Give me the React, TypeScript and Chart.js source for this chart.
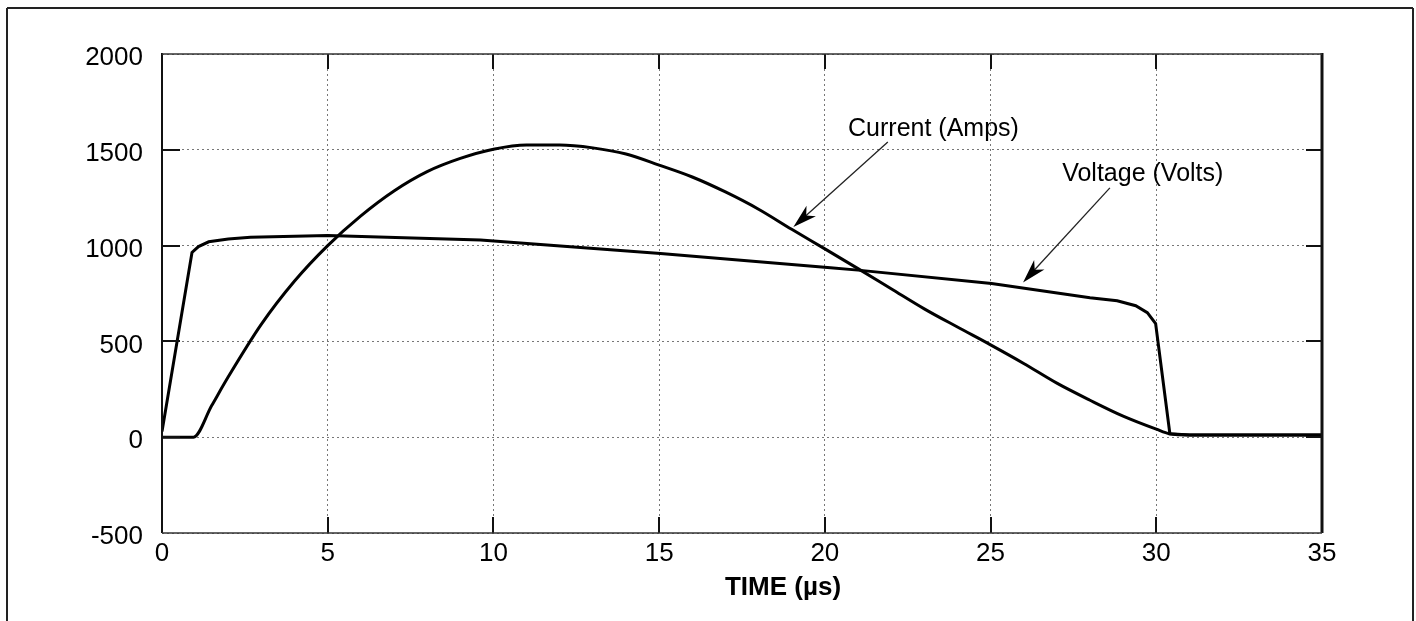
import React, { useEffect, useRef } from "react";
import { Chart, registerables } from "chart.js";

Chart.register(...registerables);

// ---- data ----
const xTicks = [0, 5, 10, 15, 20, 25, 30, 35];
const yTicks = [-500, 0, 500, 1000, 1500, 2000];
const xAxisTitle = "TIME (µs)";

const currentTime = [0, 0.95, 1.5, 2, 3, 4, 5, 6, 7, 8, 9, 10, 11, 12, 13, 14, 15, 16, 17, 18, 19, 20, 21, 22, 23, 24, 25, 26, 27, 28, 29, 30, 30.4, 31, 35];
const currentAmps = [0, 0, 165, 315, 590, 815, 1000, 1155, 1285, 1386, 1455, 1503, 1525, 1525, 1510, 1478, 1420, 1358, 1280, 1190, 1085, 983, 880, 775, 670, 575, 482, 385, 282, 193, 110, 42, 18, 12, 12];

const voltageTime = [0, 0.905, 1.1, 1.41, 2.0, 2.67, 5.0, 9.61, 15.04, 20.17, 21.0, 25.03, 28.0, 28.82, 29.38, 29.73, 29.98, 30.41, 31, 35];
const voltageVolts = [30, 964, 995, 1020, 1035, 1043, 1053, 1029, 959, 884, 872, 802, 728, 712, 686, 650, 593, 18, 12, 12];

const annotationLabels = ["Current (Amps)", "Voltage (Volts)"];
// text anchor (left, baseline) and arrow tail/tip, in data units
const annotationTextT = [20.7, 27.16];
const annotationTextV = [1572, 1337];
const annotationTailT = [21.9, 28.6];
const annotationTailV = [1541, 1301];
const annotationTipT = [19.05, 25.98];
const annotationTipV = [1097, 808];

const FONT = '"Liberation Sans", Arial, Helvetica, sans-serif';

const decorPlugin = {
  id: "decor",
  beforeDraw(chart: any) {
    const { ctx, width, height } = chart;
    ctx.save();
    ctx.fillStyle = "#ffffff";
    ctx.fillRect(0, 0, width, height);
    ctx.restore();
  },
  afterDraw(chart: any) {
    const { ctx, chartArea: a, scales } = chart;
    const xs = scales.x;
    const ys = scales.y;
    const line = (x1: number, y1: number, x2: number, y2: number) => {
      ctx.beginPath();
      ctx.moveTo(x1, y1);
      ctx.lineTo(x2, y2);
      ctx.stroke();
    };
    ctx.save();
    ctx.setLineDash([]);
    ctx.strokeStyle = "#111";
    // inward tick marks
    ctx.lineWidth = 2;
    xTicks.slice(1, -1).forEach((t) => {
      const px = Math.round(xs.getPixelForValue(t));
      line(px, a.bottom, px, a.bottom - 16);
      line(px, a.top, px, a.top + 15);
    });
    yTicks.slice(1, -1).forEach((v) => {
      const py = Math.round(ys.getPixelForValue(v));
      line(a.left, py, a.left + 18, py);
      line(a.right, py, a.right - 16, py);
    });
    // plot frame
    ctx.strokeStyle = "#111";
    ctx.lineWidth = 2;
    line(a.left, a.top - 1, a.left, a.bottom);
    ctx.lineWidth = 3;
    line(a.right, a.top - 1, a.right, a.bottom);
    ctx.lineWidth = 1.5;
    ctx.strokeStyle = "#333";
    line(a.left, a.top, a.right, a.top);
    line(a.left, a.bottom, a.right, a.bottom);
    // outer frame
    ctx.strokeStyle = "#222";
    ctx.lineWidth = 2;
    line(7, 8, 1413, 8);
    line(7, 8, 7, 621);
    line(1413, 8, 1413, 621);
    // axis title
    ctx.fillStyle = "#000";
    ctx.font = `bold 26px ${FONT}`;
    ctx.textAlign = "center";
    ctx.textBaseline = "alphabetic";
    ctx.fillText(xAxisTitle, 783, 595);
    // annotations
    ctx.font = `25px ${FONT}`;
    ctx.textAlign = "left";
    annotationLabels.forEach((label, i) => {
      const tx = xs.getPixelForValue(annotationTextT[i]);
      const ty = ys.getPixelForValue(annotationTextV[i]);
      ctx.fillStyle = "#000";
      ctx.fillText(label, tx, ty);
      const x1 = xs.getPixelForValue(annotationTailT[i]);
      const y1 = ys.getPixelForValue(annotationTailV[i]);
      const x2 = xs.getPixelForValue(annotationTipT[i]);
      const y2 = ys.getPixelForValue(annotationTipV[i]);
      const ang = Math.atan2(y2 - y1, x2 - x1);
      const headLen = 24;
      const headW = 7;
      ctx.strokeStyle = "#222";
      ctx.lineWidth = 1.3;
      line(x1, y1, x2 - Math.cos(ang) * headLen * 0.7, y2 - Math.sin(ang) * headLen * 0.7);
      const bx = x2 - Math.cos(ang) * headLen;
      const by = y2 - Math.sin(ang) * headLen;
      const nx = -Math.sin(ang);
      const ny = Math.cos(ang);
      const mx = x2 - Math.cos(ang) * headLen * 0.72;
      const my = y2 - Math.sin(ang) * headLen * 0.72;
      ctx.beginPath();
      ctx.moveTo(x2, y2);
      ctx.lineTo(bx + nx * headW, by + ny * headW);
      ctx.lineTo(mx, my);
      ctx.lineTo(bx - nx * headW, by - ny * headW);
      ctx.closePath();
      ctx.fillStyle = "#000";
      ctx.fill();
    });
    ctx.restore();
  },
};

export default function App() {
  const canvasRef = useRef<HTMLCanvasElement | null>(null);

  useEffect(() => {
    const canvas = canvasRef.current;
    if (!canvas) return;
    const chart = new Chart(canvas, {
      type: "line",
      data: {
        datasets: [
          {
            label: "Current (Amps)",
            data: currentTime.map((t, i) => ({ x: t, y: currentAmps[i] })),
            borderColor: "#000",
            borderWidth: 3,
            pointRadius: 0,
            cubicInterpolationMode: "monotone",
            fill: false,
          },
          {
            label: "Voltage (Volts)",
            data: voltageTime.map((t, i) => ({ x: t, y: voltageVolts[i] })),
            borderColor: "#000",
            borderWidth: 3,
            pointRadius: 0,
            tension: 0,
            fill: false,
          },
        ],
      },
      options: {
        responsive: false,
        animation: false,
        devicePixelRatio: 1,
        layout: { padding: { top: 54, right: 94, bottom: 0, left: 0 } },
        plugins: { legend: { display: false }, tooltip: { enabled: false } },
        scales: {
          x: {
            type: "linear",
            min: 0,
            max: 35,
            afterFit: (s: any) => {
              s.height = 88;
            },
            afterBuildTicks: (s: any) => {
              s.ticks = xTicks.map((v) => ({ value: v }));
            },
            ticks: {
              padding: 5,
              color: "#000",
              font: { family: FONT, size: 26 },
              maxRotation: 0,
              callback: (v: any) => String(v),
            },
            grid: { drawTicks: false, color: "#777", lineWidth: 1 },
            border: { display: false, dash: [2, 3] },
          },
          y: {
            type: "linear",
            min: -500,
            max: 2000,
            afterFit: (s: any) => {
              s.width = 162;
            },
            afterBuildTicks: (s: any) => {
              s.ticks = yTicks.map((v) => ({ value: v }));
            },
            ticks: {
              padding: 19,
              labelOffset: 4,
              color: "#000",
              font: { family: FONT, size: 26 },
              callback: (v: any) => String(v),
            },
            grid: { drawTicks: false, color: "#777", lineWidth: 1 },
            border: { display: false, dash: [2, 3] },
          },
        },
      },
      plugins: [decorPlugin],
    } as any);
    return () => chart.destroy();
  }, []);

  return (
    <div style={{ position: "fixed", left: 0, top: 0, width: 1416, height: 621, background: "#fff" }}>
      <canvas ref={canvasRef} width={1416} height={621} style={{ display: "block" }} />
    </div>
  );
}
